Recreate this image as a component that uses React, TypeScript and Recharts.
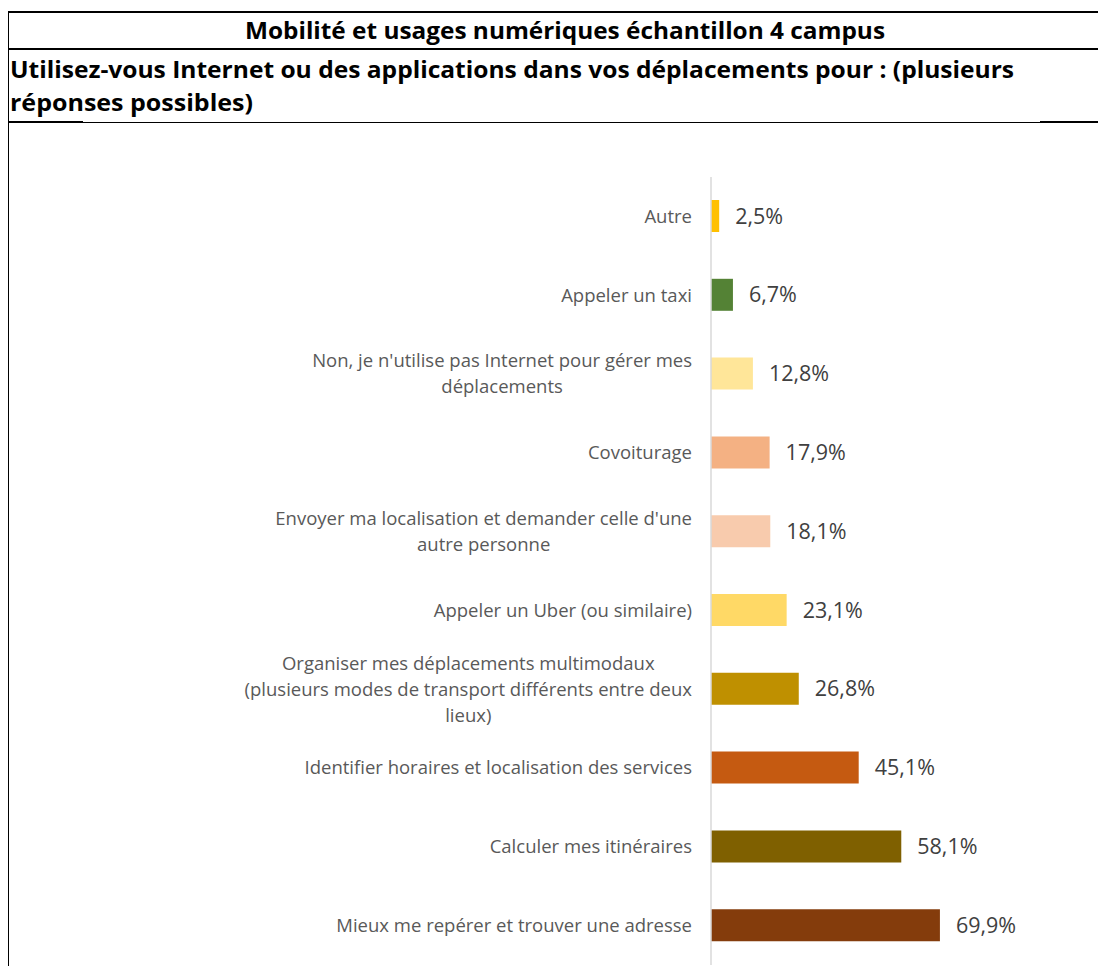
import { BarChart, Bar, XAxis, YAxis, Cell, LabelList } from 'recharts';

const categories = [
  'Autre',
  'Appeler un taxi',
  "Non, je n'utilise pas Internet pour gérer mes\ndéplacements",
  'Covoiturage',
  "Envoyer ma localisation et demander celle d'une\nautre personne",
  'Appeler un Uber (ou similaire)',
  'Organiser mes déplacements multimodaux\n(plusieurs modes de transport différents entre deux\nlieux)',
  'Identifier horaires et localisation des services',
  'Calculer mes itinéraires',
  'Mieux me repérer et trouver une adresse',
];

const values = [2.5, 6.7, 12.8, 17.9, 18.1, 23.1, 26.8, 45.1, 58.1, 69.9];

const colors = [
  '#FFC000',
  '#548235',
  '#FFE699',
  '#F4B183',
  '#F8CBAD',
  '#FFD966',
  '#BF9000',
  '#C55A11',
  '#7F6000',
  '#843C0C',
];

const title = 'Mobilité et usages numériques échantillon 4 campus';
const subtitle = ['Utilisez-vous Internet ou des applications dans vos déplacements pour : (plusieurs', 'réponses possibles)'];

const data = categories.map((name, i) => ({ name, value: values[i] }));

const FONT = '"Open Sans", "Noto Sans", sans-serif';
const CAT_SIZE = 18.5;
const AXIS_X = 711;

let ctx: CanvasRenderingContext2D | null = null;
const measure = (s: string) => {
  if (!ctx) ctx = document.createElement('canvas').getContext('2d');
  if (!ctx) return s.length * CAT_SIZE * 0.5;
  ctx.font = `${CAT_SIZE}px "Open Sans"`;
  return ctx.measureText(s).width;
};

const CategoryTick = (props: any) => {
  const { y, payload } = props;
  const lines: string[] = String(payload.value).split('\n');
  const w = Math.max(...lines.map(measure));
  const right = AXIS_X - 19;
  const cx = right - w / 2;
  const lh = 26;
  const y0 = y - ((lines.length - 1) * lh) / 2;
  return (
    <text textAnchor="middle" fill="#595959" fontSize={CAT_SIZE} fontFamily={FONT}>
      {lines.map((l, i) => (
        <tspan key={i} x={cx} y={y0 + i * lh} dy="0.35em">
          {l}
        </tspan>
      ))}
    </text>
  );
};

const fmt = (v: any) => Number(v).toFixed(1).replace('.', ',') + '%';

export default function App() {
  return (
    <div style={{ position: 'relative', width: 1106, height: 974, margin: -8, background: '#fff' }}>
      <svg width={1106} height={974} style={{ position: 'absolute', left: 0, top: 0 }}>
        <line x1={7} y1={12} x2={1106} y2={12} stroke="#000" strokeWidth={2} />
        <line x1={8} y1={11} x2={8} y2={974} stroke="#000" strokeWidth={2} />
        <line x1={7} y1={49} x2={1106} y2={49} stroke="#000" strokeWidth={2} />
        <line x1={8} y1={122.5} x2={1106} y2={122.5} stroke="#000" strokeWidth={1} />
        <line x1={7} y1={122} x2={83} y2={122} stroke="#000" strokeWidth={2} />
        <line x1={1040} y1={122} x2={1106} y2={122} stroke="#000" strokeWidth={2} />
        <text
          x={245}
          y={39}
          fontFamily={FONT}
          fontWeight="bold"
          fontSize={24}
          fill="#000"
          textLength={640}
          lengthAdjust="spacingAndGlyphs"
        >
          {title}
        </text>
        <text
          x={10}
          y={78}
          fontFamily={FONT}
          fontWeight="bold"
          fontSize={24}
          fill="#000"
          textLength={1004}
          lengthAdjust="spacingAndGlyphs"
        >
          {subtitle[0]}
        </text>
        <text
          x={10}
          y={111}
          fontFamily={FONT}
          fontWeight="bold"
          fontSize={24}
          fill="#000"
          textLength={243}
          lengthAdjust="spacingAndGlyphs"
        >
          {subtitle[1]}
        </text>
      </svg>
      <div style={{ position: 'absolute', left: 0, top: 0 }}>
        <BarChart
          width={1106}
          height={974}
          data={data}
          layout="vertical"
          margin={{ top: 177, right: 133, bottom: 9, left: 0 }}
        >
          <XAxis type="number" domain={[0, 80]} hide />
          <YAxis
            type="category"
            dataKey="name"
            width={AXIS_X}
            axisLine={{ stroke: '#D9D9D9', strokeWidth: 1.5 }}
            tickLine={false}
            tick={<CategoryTick />}
            interval={0}
          />
          <Bar dataKey="value" barSize={32} isAnimationActive={false}>
            {data.map((d, i) => (
              <Cell key={d.name} fill={colors[i]} />
            ))}
            <LabelList
              dataKey="value"
              position="right"
              offset={16}
              formatter={fmt}
              fill="#404040"
              fontSize={21.5}
              fontFamily={FONT}
            />
          </Bar>
        </BarChart>
      </div>
    </div>
  );
}
